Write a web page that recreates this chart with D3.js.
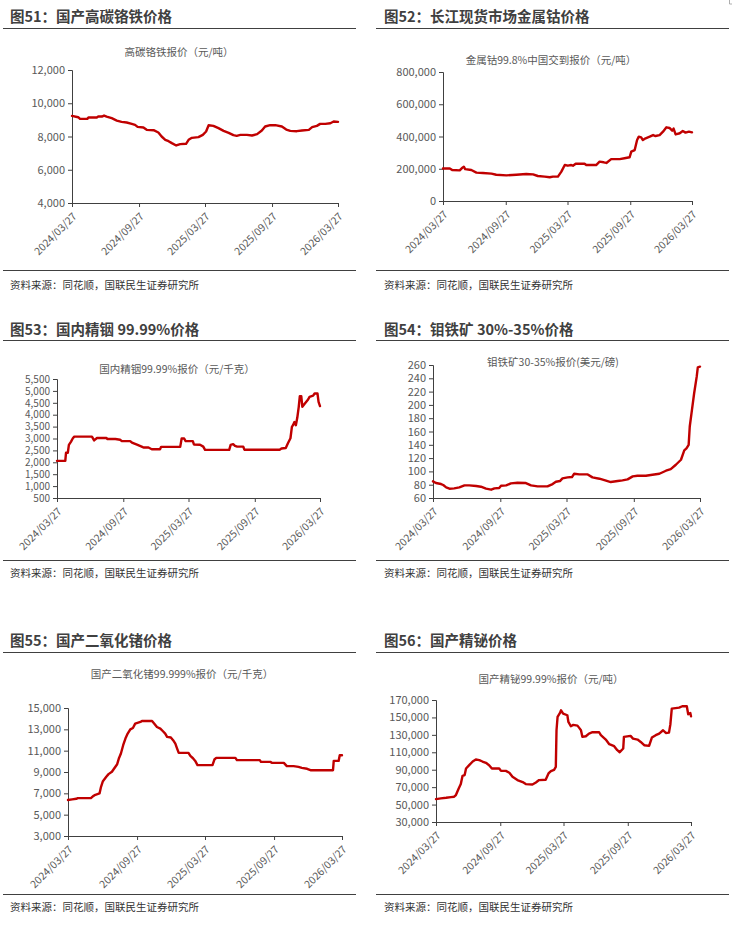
<!DOCTYPE html>
<html>
<head>
<meta charset="utf-8">
<script src="https://cdn.jsdelivr.net/npm/d3@7"></script>
<style>
  body { margin: 0; background: #fff; }
  svg { display: block; }
  text { font-family: "Noto Sans CJK SC", "Noto Sans", sans-serif; }
</style>
</head>
<body>
<svg id="chart" width="732" height="935"></svg>
<script>
// all series start 2024/03/27, x values are day offsets from that date
const startDate = new Date(2024, 2, 27)
const tickLabels = ['2024/03/27', '2024/09/27', '2025/03/27', '2025/09/27', '2026/03/27']
const sourceText = '资料来源：同花顺，国联民生证券研究所'

// 图51 高碳铬铁 (元/吨)
const crDays = [0,17,22,42,45,68,72,82,88,95,109,123,136,150,164,173,180,196,205,224,237,246,256,265,274,286,297,313,320,329,347,359,368,375,388,402,416,430,443,452,462,480,494,508,521,530,544,558,576,588,599,617,631,650,659,672,681,695,709,718,730]
const crValues = [9240,9160,9060,9060,9140,9140,9200,9200,9260,9200,9100,8960,8880,8840,8760,8700,8580,8540,8400,8380,8240,8000,7800,7720,7600,7460,7540,7560,7800,7920,7960,8100,8300,8680,8640,8500,8340,8220,8080,8040,8100,8100,8060,8140,8360,8600,8680,8680,8600,8420,8340,8320,8360,8400,8560,8640,8760,8760,8800,8900,8880]

// 图52 金属钴 (元/吨)
const coDays = [0,20,27,49,57,61,65,83,98,117,142,156,186,215,244,264,278,298,313,322,337,347,357,366,376,381,389,415,420,449,459,471,479,493,518,532,547,552,562,569,574,581,586,594,606,616,623,635,645,655,664,672,676,682,694,703,711,721,730]
const coValues = [202000,202000,192000,190000,207000,213000,198000,192000,176000,174000,170000,163000,159000,163000,167000,165000,155000,151000,147000,151000,151000,182000,223000,219000,223000,219000,231000,231000,223000,223000,244000,240000,236000,260000,260000,265000,271000,306000,316000,378000,399000,395000,378000,389000,399000,409000,403000,409000,430000,457000,453000,436000,449000,413000,420000,434000,424000,430000,426000]

// 图53 精铟 (元/千克)
const inDays = [0,23,25,30,33,39,44,48,97,103,111,137,140,162,175,180,203,208,222,235,240,254,263,286,289,342,346,353,357,377,380,397,406,411,478,482,489,494,500,517,520,618,623,635,641,648,652,655,659,663,667,671,674,678,681,688,697,701,711,715,723,726,730]
const inValues = [2060,2060,2400,2400,2730,2870,3010,3080,3080,2920,3020,3020,2980,2980,2950,2890,2890,2830,2740,2660,2620,2620,2550,2550,2650,2650,3000,3000,2890,2890,2750,2740,2660,2520,2520,2730,2760,2690,2660,2660,2530,2530,2580,2600,2800,3010,3490,3560,3690,3560,3880,4330,4780,4780,4330,4470,4640,4750,4800,4890,4890,4540,4360]

// 图54 钼铁矿 (美元/磅)
const moDays = [0,8,22,28,36,45,58,72,86,99,118,131,145,159,168,181,186,200,213,231,254,268,286,313,327,336,347,354,368,380,386,400,423,436,455,473,486,505,518,532,546,559,582,600,619,637,650,664,678,687,693,699,702,708,714,721,724,730]
const moValues = [85,82.5,81,79.5,76,74,74.5,76,79,79,78,77,74,72.5,74.5,75,78.5,79,82,83,82.5,79,77.5,77.5,81,84.5,85.5,89.5,91,91.5,96.5,95.5,95.5,91,89,86,84,85.5,86.5,88,92.5,93.5,93.5,95,96.5,101,103.5,110,117.5,131.5,134.5,140,167.5,192.5,217.5,242.5,256.5,257.5]

// 图55 二氧化锗 (元/千克)
const geDays = [0,11,22,26,61,67,73,84,88,93,102,108,117,123,131,136,141,147,153,159,166,173,179,193,197,224,230,237,246,253,259,264,274,280,286,290,295,321,326,333,339,345,385,390,395,446,450,511,514,539,543,575,583,601,614,623,637,646,706,708,721,724,730]
const geValues = [6370,6430,6490,6550,6550,6740,6860,6990,7610,8140,8550,8800,9020,9330,9730,10320,10730,11510,12130,12600,13000,13130,13530,13690,13780,13780,13530,13220,13070,12820,12600,12290,12230,11980,11660,11260,10790,10790,10510,10290,10040,9640,9640,10170,10320,10320,10110,10110,9950,9950,9860,9860,9550,9550,9480,9390,9300,9170,9170,10040,10040,10570,10570]

// 图56 精铋 (元/吨)
const biDays = [0,14,29,43,52,57,65,71,76,82,86,95,105,114,124,133,143,152,160,181,186,200,210,219,233,248,257,276,286,295,314,322,329,338,343,345,348,355,358,364,376,379,386,393,405,410,415,419,429,438,448,467,472,486,496,510,519,526,536,538,557,564,577,586,596,610,618,629,639,650,658,667,671,675,696,705,718,722,728,730]
const biValues = [56300,57100,57800,58600,59000,60900,68500,73500,83000,83800,91400,95200,99400,101700,101000,99400,97900,95200,91400,91400,88700,88700,86500,81900,78100,75800,73500,73100,75400,78100,78400,85700,88400,89900,93300,135300,150500,155100,158200,154400,152500,144800,139900,141400,140600,138000,135300,127700,128400,131500,133000,133000,129600,124600,119300,117000,112400,110100,114300,127700,128800,125700,124600,121900,118100,117400,126900,129600,131500,135300,132200,132600,142200,160100,161200,162800,162800,153600,155100,151300]

const panels = [
    { title: '图51：国产高碳铬铁价格', sub: '高碳铬铁报价（元/吨）', days: crDays, values: crValues,
      domain: [4000, 12000], step: 2000, fs: 11,
      x0: 3, x1: 356, tx: 10, ty: 22, rule: 28, sx: 179, sy: 56, left: 72, right: 338, top: 70, bottom: 203, foot: 270, fy: 289 },
    { title: '图52：长江现货市场金属钴价格', sub: '金属钴99.8%中国交到报价（元/吨）', days: coDays, values: coValues,
      domain: [0, 800000], step: 200000, fs: 11,
      x0: 376, x1: 729, tx: 384, ty: 22, rule: 28, sx: 551, sy: 64, left: 443, right: 692, top: 72, bottom: 201, foot: 270, fy: 289 },
    { title: '图53：国内精铟 99.99%价格', sub: '国内精铟99.99%报价（元/千克）', days: inDays, values: inValues,
      domain: [500, 5500], step: 500, fs: 10,
      x0: 3, x1: 356, tx: 10, ty: 335, rule: 340, sx: 177, sy: 373, left: 57, right: 320, top: 379, bottom: 498, foot: 560, fy: 577 },
    { title: '图54：钼铁矿 30%-35%价格', sub: '钼铁矿30-35%报价(美元/磅)', days: moDays, values: moValues,
      domain: [60, 260], step: 20, fs: 11,
      x0: 376, x1: 729, tx: 384, ty: 335, rule: 340, sx: 553, sy: 366, left: 433, right: 700, top: 365, bottom: 498, foot: 560, fy: 577 },
    { title: '图55：国产二氧化锗价格', sub: '国产二氧化锗99.999%报价（元/千克）', days: geDays, values: geValues,
      domain: [3000, 15000], step: 2000, fs: 11,
      x0: 3, x1: 356, tx: 10, ty: 646, rule: 652, sx: 182, sy: 678, left: 68, right: 342, top: 708, bottom: 836, foot: 894, fy: 911 },
    { title: '图56：国产精铋价格', sub: '国产精铋99.99%报价（元/吨）', days: biDays, values: biValues,
      domain: [30000, 170000], step: 20000, fs: 11,
      x0: 376, x1: 729, tx: 384, ty: 646, rule: 652, sx: 551, sy: 683, left: 436, right: 691, top: 700, bottom: 822, foot: 894, fy: 911 },
]

const svg = d3.select('#chart')
const axisColor = '#404040'
const labelColor = '#595959'
const lineColor = '#C00000'

// little corner mark top right
svg.append('path').attr('d', 'M729.5,0V4H732').attr('fill', 'none').attr('stroke', '#999').attr('stroke-width', 0.8)

const parseTick = d3.timeParse('%Y/%m/%d')
const fmtTick = d3.timeFormat('%Y/%m/%d')

panels.forEach((p) => {
    const g = svg.append('g')

    g.append('text').attr('x', p.tx).attr('y', p.ty)
        .attr('font-size', 14.5).attr('font-weight', 700).attr('fill', '#404040')
        .text(p.title)
    g.append('line').attr('x1', p.x0).attr('x2', p.x1).attr('y1', p.rule + 0.5).attr('y2', p.rule + 0.5)
        .attr('stroke', '#404040').attr('stroke-width', 1)
    g.append('line').attr('x1', p.x0).attr('x2', p.x1).attr('y1', p.foot + 0.5).attr('y2', p.foot + 0.5)
        .attr('stroke', '#404040').attr('stroke-width', 1)
    g.append('text').attr('x', p.tx).attr('y', p.fy)
        .attr('font-size', 10.5).attr('fill', '#333')
        .text(sourceText)
    g.append('text').attr('x', p.sx).attr('y', p.sy).attr('text-anchor', 'middle')
        .attr('font-size', 10.5).attr('fill', labelColor)
        .text(p.sub)

    const x = d3.scaleTime()
        .domain([parseTick(tickLabels[0]), parseTick(tickLabels[tickLabels.length - 1])])
        .range([p.left, p.right])
    const y = d3.scaleLinear().domain(p.domain).range([p.bottom, p.top])

    const yAxis = d3.axisLeft(y)
        .tickValues(d3.range(p.domain[0], p.domain[1] + p.step / 2, p.step))
        .tickFormat(d3.format(','))
        .tickSize(4).tickPadding(3)
    const ya = g.append('g').attr('transform', `translate(${p.left},0)`).call(yAxis)
    ya.select('.domain').attr('stroke', axisColor)
    ya.selectAll('.tick line').attr('stroke', axisColor)
    ya.selectAll('.tick text').attr('fill', labelColor).attr('font-size', p.fs)
        .attr('font-family', '"Liberation Sans", "Noto Sans", sans-serif')

    const xAxis = d3.axisBottom(x)
        .tickValues(tickLabels.map(parseTick))
        .tickFormat(fmtTick)
        .tickSize(4).tickSizeOuter(0)
    const xa = g.append('g').attr('transform', `translate(0,${p.bottom})`).call(xAxis)
    xa.select('.domain').attr('stroke', axisColor)
    xa.selectAll('.tick line').attr('stroke', axisColor)
    xa.selectAll('.tick text').attr('fill', labelColor).attr('font-size', 10.5)
        .attr('font-family', '"Liberation Sans", "Noto Sans", sans-serif')
        .attr('text-anchor', 'end').attr('dy', null).attr('y', 0)
        .attr('transform', 'translate(5,14) rotate(-45)')

    const pts = p.days.map((d, i) => [d3.timeDay.offset(startDate, d), p.values[i]])
    const line = d3.line().x((d) => x(d[0])).y((d) => y(d[1]))
    g.append('path').datum(pts).attr('d', line)
        .attr('fill', 'none').attr('stroke', lineColor).attr('stroke-width', 2.4)
        .attr('stroke-linejoin', 'round').attr('stroke-linecap', 'round')
})
</script>
</body>
</html>
